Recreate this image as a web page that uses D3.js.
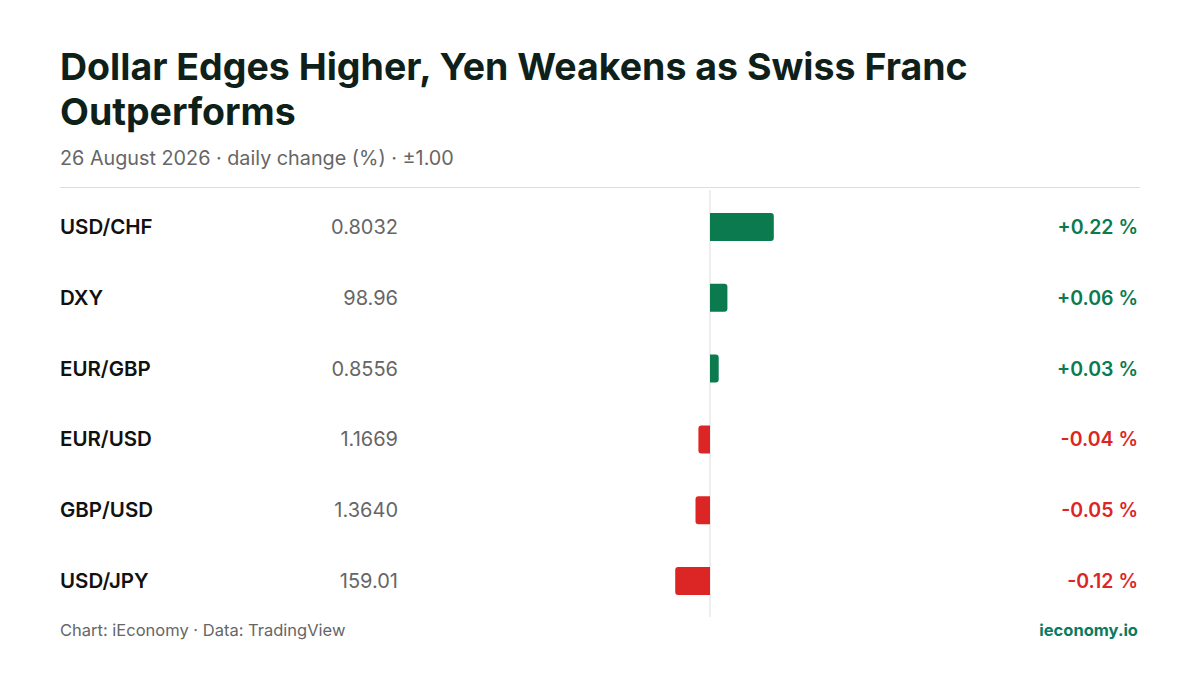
<!DOCTYPE html><html><head><meta charset="utf-8"><script src="https://cdn.jsdelivr.net/npm/d3@7"></script>
<style>body{margin:0;background:#fff}svg{font-family:Inter,sans-serif}</style></head><body><svg id="c" width="1200" height="675"></svg>
<script>
const names=["USD/CHF","DXY","EUR/GBP","EUR/USD","GBP/USD","USD/JPY"];
const prices=["0.8032","98.96","0.8556","1.1669","1.3640","159.01"];
const changes=[0.22,0.06,0.03,-0.04,-0.05,-0.12];
const svg=d3.select("#c");
const G="#0b7a4e",R="#dc2626";
svg.append("text").attr("x",60).attr("y",80).attr("font-size",37.5).attr("font-weight",700).attr("fill","#0f1f1a").text("Dollar Edges Higher, Yen Weakens as Swiss Franc");
svg.append("text").attr("x",60).attr("y",125).attr("font-size",37.5).attr("font-weight",700).attr("fill","#0f1f1a").text("Outperforms");
svg.append("text").attr("x",60).attr("y",165).attr("font-size",19.8).attr("fill","#666").text("26 August 2026 · daily change (%) · ±1.00");
svg.append("line").attr("x1",60).attr("x2",1140).attr("y1",187.5).attr("y2",187.5).attr("stroke","#ddd");
const x=d3.scaleLinear().domain([-1,1]).range([420,1000]);
const y=d3.scalePoint().domain(names).range([227,581]);
const h=28;
svg.append("line").attr("x1",x(0)).attr("x2",x(0)).attr("y1",190).attr("y2",617).attr("stroke","#ddd");
const row=svg.selectAll("g.r").data(names).join("g");
row.append("text").attr("x",60).attr("y",n=>y(n)+7).attr("font-size",20.5).attr("font-weight",600).attr("fill","#111").text(n=>n);
row.append("text").attr("x",398).attr("y",n=>y(n)+7).attr("text-anchor","end").attr("font-size",20).attr("fill","#666").text((n,i)=>prices[i]);
row.append("path").attr("fill",(n,i)=>changes[i]>=0?G:R).attr("d",(n,i)=>{
 const v=changes[i],x0=x(0),x1=x(v),t=y(n)-h/2,w=Math.abs(x1-x0),r=Math.min(3,w/2),s=v>=0?1:-1;
 const p=d3.path();
 p.moveTo(x0,t);p.lineTo(x1-s*r,t);p.quadraticCurveTo(x1,t,x1,t+r);p.lineTo(x1,t+h-r);p.quadraticCurveTo(x1,t+h,x1-s*r,t+h);p.lineTo(x0,t+h);
 p.closePath();return p.toString();});
row.append("text").attr("x",1138).attr("y",n=>y(n)+7).attr("text-anchor","end").attr("font-size",19.5).attr("font-weight",600).attr("fill",(n,i)=>changes[i]>=0?G:R).text((n,i)=>(changes[i]>=0?"+":"")+changes[i].toFixed(2)+" %");
svg.append("text").attr("x",60).attr("y",636).attr("font-size",16.5).attr("fill","#666").text("Chart: iEconomy · Data: TradingView");
svg.append("text").attr("x",1138).attr("y",636).attr("text-anchor","end").attr("font-size",16.5).attr("font-weight",700).attr("fill","#0b7a5e").text("ieconomy.io");
</script></body></html>
